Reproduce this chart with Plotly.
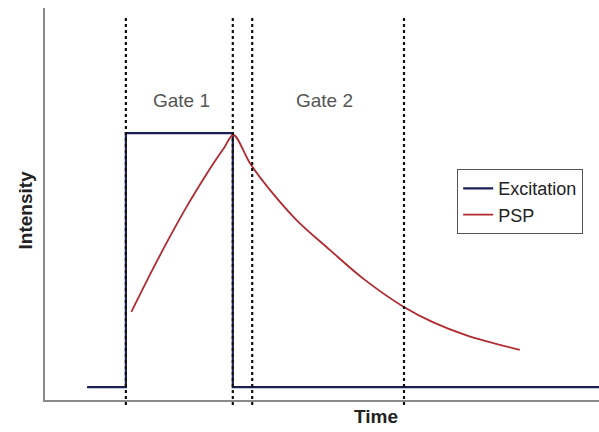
import plotly.graph_objects as go

# Data (arbitrary time / intensity units) -----------------------
exc_t = [7.6, 14.6, 14.6, 33.9, 33.9, 100]
exc_i = [3.3, 3.3, 68.1, 68.1, 3.3, 3.3]

psp_t = [15.6, 19.5, 22.6, 25.6, 28.6, 30.6, 32.4, 34.0,
         37.0, 40.6, 45.4, 51.4, 57.5, 64.7, 70.1, 76.1, 85.7]
psp_i = [22.5, 33.5, 41.8, 49.4, 56.4, 60.8, 64.5, 67.6,
         60.4, 53.6, 45.9, 38.3, 30.9, 23.8, 19.8, 16.5, 12.8]

gate_edges = [14.6, 33.9, 37.4, 64.8]
gate_names = ["Gate 1", "Gate 2"]
gate_label_t = [24.7, 50.5]
gate_label_i = [76.5, 76.5]

FONT = "Arial, Liberation Sans"

fig = go.Figure()
fig.add_trace(go.Scatter(x=exc_t, y=exc_i, mode="lines", name="Excitation",
                         line=dict(color="#1c1f56", width=2.2)))
fig.add_trace(go.Scatter(x=psp_t, y=psp_i, mode="lines", name="PSP",
                         line=dict(color="#b02a30", width=1.8, shape="spline", smoothing=1)))

# dotted gate boundaries
for g in gate_edges:
    fig.add_shape(type="line", xref="x", yref="paper", x0=g, x1=g, y0=-0.013, y1=0.975,
                  line=dict(color="#111111", width=2.2, dash="dot"), layer="above")

for name, t, i in zip(gate_names, gate_label_t, gate_label_i):
    fig.add_annotation(x=t, y=i, text=name, showarrow=False,
                       font=dict(family=FONT, size=19, color="#555555"))

# axis titles (placed like the original, "Time" sits right of centre)
fig.add_annotation(xref="paper", yref="paper", x=0.597, y=-0.041, text="<b>Time</b>",
                   showarrow=False, yanchor="middle",
                   font=dict(family=FONT, size=19, color="#222222"))
fig.add_annotation(xref="paper", yref="paper", x=-0.035, y=0.485, text="<b>Intensity</b>",
                   showarrow=False, textangle=-90, xanchor="center",
                   font=dict(family=FONT, size=19, color="#222222"))

fig.update_layout(
    width=599, height=432, autosize=False,
    margin=dict(l=45, r=0, t=8, b=32),
    plot_bgcolor="white", paper_bgcolor="white",
    font=dict(family=FONT, color="#222222"),
    showlegend=True,
    legend=dict(x=0.744, y=0.589, xanchor="left", yanchor="top",
                bordercolor="#555555", borderwidth=1, bgcolor="white",
                font=dict(size=18, color="#222222"), tracegroupgap=0,
                itemwidth=30),
    xaxis=dict(range=[0, 100], showticklabels=False, ticks="", showgrid=False,
               zeroline=False, showline=True, linecolor="#8a8a8a", linewidth=2,
               automargin=False),
    yaxis=dict(range=[0, 100], showticklabels=False, ticks="", showgrid=False,
               zeroline=False, showline=True, linecolor="#8a8a8a", linewidth=2,
               automargin=False),
)

fig.write_html("out.html", config={"displayModeBar": False},
               post_script="document.body.style.margin='0';")
